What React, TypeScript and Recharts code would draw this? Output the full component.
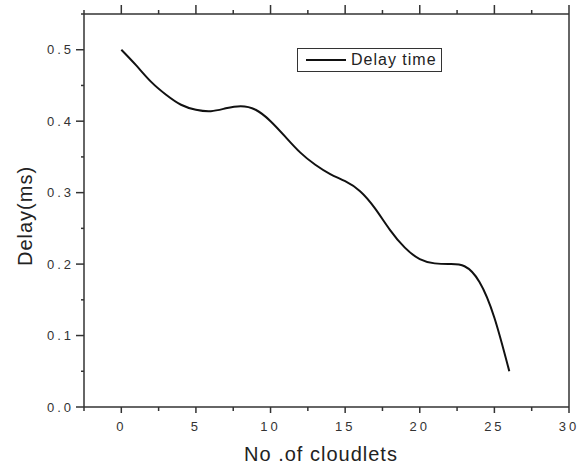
import { LineChart, Line, XAxis, YAxis, Legend, ReferenceLine, Label } from 'recharts';

const cloudlets = [0, 1, 2, 3, 4, 5, 6, 7, 8, 9, 10, 11, 12, 13, 14, 15, 16, 17, 18, 19, 20, 21, 22, 23, 24, 25, 26];
const delay = [
  0.5, 0.478, 0.455, 0.437, 0.423, 0.416, 0.414, 0.418, 0.421, 0.416, 0.4, 0.378, 0.356, 0.339,
  0.326, 0.316, 0.302, 0.278, 0.248, 0.223, 0.207, 0.201, 0.2, 0.197, 0.175, 0.125, 0.05,
];
const xTicks = [-2.5, 0, 2.5, 5, 7.5, 10, 12.5, 15, 17.5, 20, 22.5, 25, 27.5, 30];
const yTicks = [0, 0.05, 0.1, 0.15, 0.2, 0.25, 0.3, 0.35, 0.4, 0.45, 0.5, 0.55];

const data = cloudlets.map((c, i) => ({ cloudlets: c, delay: delay[i] }));

const AXIS = '#333';
const FONT = '"Liberation Sans", Arial, sans-serif';
const PLOT_TOP = 14;

const isMajorX = (v: number) => v % 5 === 0;
const isMajorY = (v: number) => Math.abs(v * 10 - Math.round(v * 10)) < 1e-6;

// bottom tick also draws the matching tick on the top frame edge
function BottomTick({ x, y, payload }: any) {
  const major = isMajorX(payload.value);
  return (
    <g>
      <line x1={x} x2={x} y1={y} y2={y + (major ? 6 : 4)} stroke={AXIS} strokeWidth={1.5} />
      <line x1={x} x2={x} y1={PLOT_TOP} y2={PLOT_TOP - (major ? 9 : 4)} stroke={AXIS} strokeWidth={1.5} />
      {major && (
        <text x={x} y={y + 24} textAnchor="middle" fontSize={13} letterSpacing={3} fill="#333" fontFamily={FONT}>
          {payload.value}
        </text>
      )}
    </g>
  );
}

function LeftTick({ x, y, payload }: any) {
  const major = isMajorY(payload.value);
  return (
    <g>
      <line x1={x} x2={x - (major ? 8 : 3)} y1={y} y2={y} stroke={AXIS} strokeWidth={1.5} />
      {major && (
        <text x={x - 10} y={y + 4.5} textAnchor="end" fontSize={13} letterSpacing={3} fill="#333" fontFamily={FONT}>
          {payload.value.toFixed(1)}
        </text>
      )}
    </g>
  );
}

function LegendBox() {
  return (
    <div
      style={{
        boxSizing: 'border-box',
        width: 145,
        height: 24,
        border: `1.5px solid ${AXIS}`,
        display: 'flex',
        alignItems: 'center',
        background: '#fff',
        fontFamily: FONT,
      }}
    >
      <span style={{ display: 'inline-block', width: 40, height: 2.5, background: '#111', marginLeft: 8 }} />
      <span style={{ marginLeft: 5, fontSize: 16, letterSpacing: 1, color: '#222' }}>Delay time</span>
    </div>
  );
}

export default function App() {
  return (
    <div style={{ width: 580, height: 467, background: '#fff' }}>
      <style>{'body{margin:0}'}</style>
      <LineChart width={580} height={467} data={data} margin={{ top: PLOT_TOP, right: 11, left: 0, bottom: 0 }}>
        <XAxis
          dataKey="cloudlets"
          type="number"
          domain={[-2.5, 30]}
          allowDataOverflow
          ticks={xTicks}
          interval={0}
          height={60}
          tickSize={0}
          tickMargin={0}
          tickLine={false}
          tick={BottomTick}
          axisLine={{ stroke: AXIS, strokeWidth: 1.5 }}
        >
          <Label
            content={() => (
              <text x={321} y={461} textAnchor="middle" fontSize={20} letterSpacing={1} fill="#222" fontFamily={FONT}>
                No .of cloudlets
              </text>
            )}
          />
        </XAxis>
        <YAxis
          type="number"
          domain={[0, 0.55]}
          allowDataOverflow
          ticks={yTicks}
          interval={0}
          width={84}
          tickSize={0}
          tickMargin={0}
          tickLine={false}
          tick={LeftTick}
          axisLine={{ stroke: AXIS, strokeWidth: 1.5 }}
        >
          <Label
            content={() => (
              <text
                x={0}
                y={0}
                transform="translate(32,216) rotate(-90)"
                textAnchor="middle"
                fontSize={20}
                letterSpacing={1}
                fill="#222"
                fontFamily={FONT}
              >
                Delay(ms)
              </text>
            )}
          />
        </YAxis>
        <ReferenceLine x={30} stroke={AXIS} strokeWidth={1.5} />
        <ReferenceLine y={0.55} stroke={AXIS} strokeWidth={1.5} />
        <Legend
          verticalAlign="middle"
          layout="horizontal"
          content={LegendBox}
          wrapperStyle={{ left: 297, top: 48, width: 'auto' }}
        />
        <Line
          type="natural"
          dataKey="delay"
          name="Delay time"
          stroke="#111"
          strokeWidth={2}
          dot={false}
          isAnimationActive={false}
        />
      </LineChart>
    </div>
  );
}
